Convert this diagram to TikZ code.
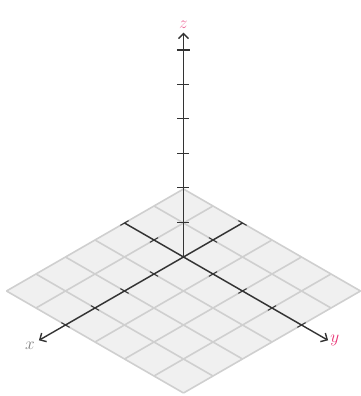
\documentclass[tikz,border=0pt]{standalone}
\usetikzlibrary{arrows.meta,positioning}
\usepackage{xcolor}
\definecolor{labelpink}{RGB}{232,50,115}

\begin{document}
\begin{tikzpicture}[
    x={(-29.5pt,-17pt)}, y={(29.5pt,-17pt)}, z={(0pt,34.5pt)},
    gridline/.style={draw=gray!38, line width=1.6pt},
    axis/.style={draw=black!80, line width=1.4pt},
    arrow/.style={axis,-{Straight Barb[length=5pt,width=10pt]}},
    tick/.style={draw=black!80, line width=1pt},
    axislabel/.style={font=\fontsize{19}{21}\selectfont, inner sep=1pt}
]
  \path[use as bounding box] (-183.5pt,-139pt) rectangle (177.5pt,257pt);

  % Grid
  \fill[gray!12] (-2,-2,0) -- (4,-2,0) -- (4,4,0) -- (-2,4,0) -- cycle;
  \foreach \i in {-2,...,4} {
    \draw[gridline] (\i,-2,0) -- (\i,4,0);
    \draw[gridline] (-2,\i,0) -- (4,\i,0);
  }

  % Points
  \coordinate (O) at (0,0,0);
  \coordinate (xneg) at (-2,0,0);
  \coordinate (yneg) at (0,-2,0);
  \coordinate (xtip) at (4.9,0,0);
  \coordinate (ytip) at (0,4.9,0);
  \coordinate (ztip) at (0,0,6.5);

  % Axes
  \draw[arrow] (xneg) -- (xtip);
  \draw[arrow] (yneg) -- (ytip);
  \draw[arrow] (O) -- (ztip);

  % Ticks
  \foreach \i in {-2,-1,1,2,3,4} {
    \draw[tick] (\i,-0.14,0) -- (\i,0.14,0);
    \draw[tick] (-0.14,\i,0) -- (0.14,\i,0);
  }
  \foreach \i in {1,...,5}
    \draw[tick] ([xshift=-6pt]0,0,\i) -- ([xshift=6pt]0,0,\i);
  \draw[tick, line width=2pt] ([xshift=-6.5pt]0,0,6) -- ([xshift=6.5pt]0,0,6);

  % Labels
  \node (xlabel) [axislabel, text=gray, below left=1pt and 3pt of xtip] {$x$};
  \node (ylabel) [axislabel, text=labelpink, right=1pt of ytip] {$y$};
  \node (zlabel) [axislabel, text=labelpink!70, above=3pt of ztip] {$z$};
\end{tikzpicture}
\end{document}
